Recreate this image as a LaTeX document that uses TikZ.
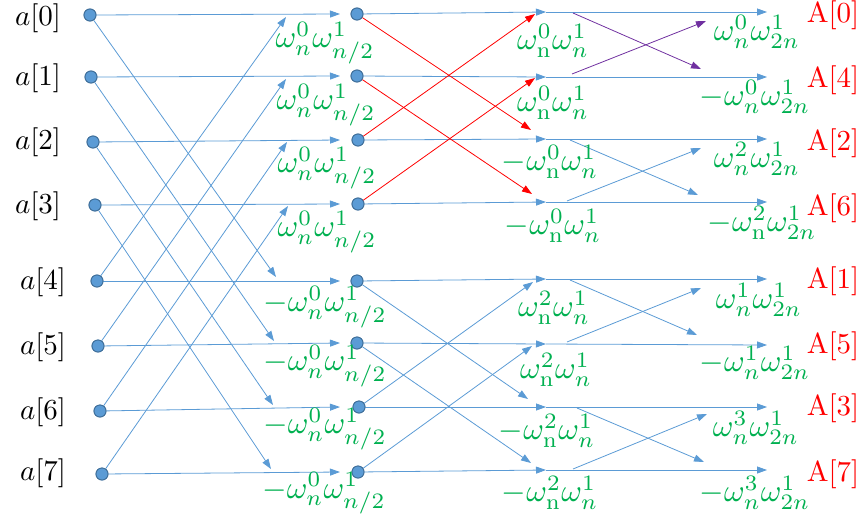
\documentclass[tikz,border=0pt]{standalone}
\usetikzlibrary{arrows.meta}
\definecolor{lblue}{HTML}{5B9BD5}
\definecolor{dblue}{HTML}{41719C}
\definecolor{ggreen}{HTML}{00B050}
\definecolor{rred}{HTML}{FF0000}
\definecolor{ppurple}{HTML}{7030A0}
\newcommand{\wscale}[1]{\scalebox{3.15}{#1}}
\newcommand{\iscale}[1]{\scalebox{2.9}{#1}}
\tikzset{
  dot/.style={circle, fill=lblue, draw=dblue, line width=0.9pt, minimum size=12pt, inner sep=0pt},
  conn/.style={draw=lblue, line width=0.8pt, -{Triangle[length=10pt,width=7pt]}},
  rconn/.style={conn, draw=rred},
  pconn/.style={conn, draw=ppurple},
  wlab/.style={text=ggreen, inner sep=0pt},
  inlab/.style={inner sep=0pt},
  outlab/.style={text=rred, inner sep=0pt},
}
\begin{document}
\begin{tikzpicture}[x=1pt,y=-1pt]
\useasboundingbox (0,0) rectangle (867,520);
% input nodes
\foreach \i/\x/\y in {0/90/15,1/91/77,2/93/142,3/95/205,4/97/281,5/98/346,6/100/411,7/102/474}
  \node[dot] (a\i) at (\x,\y) {};
% second column nodes
\foreach \i/\x/\y in {0/357/14,1/357/76,2/358/140,3/358/204,4/357/281,5/357/343,6/359/407,7/358/472}
  \node[dot] (m\i) at (\x,\y) {};
% tips into second column
\foreach \i/\y in {0/14,1/76,2/140,3/204,4/281,5/343,6/407,7/472}
  \coordinate (h\i) at (340,\y);
\coordinate (u0) at (286,17);
\coordinate (u1) at (286,79);
\coordinate (u2) at (287,142);
\coordinate (u3) at (288,206);
\coordinate (u4) at (276,277);
\coordinate (u5) at (274,341);
\coordinate (u6) at (273,405);
\coordinate (u7) at (271,469);
% third column tips
\foreach \i/\y in {0/12,1/77,2/139,3/202,4/279,5/344,6/407,7/470}
  \coordinate (c\i) at (546,\y);
% fourth column tips
\foreach \i/\y in {0/12,1/77,2/139,3/202,4/279,5/345,6/407,7/470}
  \coordinate (d\i) at (767,\y);
% cross tips into third column
\coordinate (r0) at (535,14);
\coordinate (r1) at (535,78);
\coordinate (r2) at (531,130);
\coordinate (r3) at (532,194);
\coordinate (r4) at (533,282);
\coordinate (r5) at (532,346);
\coordinate (r6) at (528,399);
\coordinate (r7) at (531,463);
% starts and tips of crosses into fourth column
\coordinate (s0) at (573,13);
\coordinate (s1) at (572,74);
\coordinate (s2) at (570,140);
\coordinate (s3) at (567,201);
\coordinate (s4) at (570,280);
\coordinate (s5) at (567,342);
\coordinate (s6) at (577,408);
\coordinate (s7) at (573,469);
\coordinate (t0) at (706,21);
\coordinate (t1) at (701,69);
\coordinate (t2) at (701,148);
\coordinate (t3) at (698,195);
\coordinate (t4) at (701,288);
\coordinate (t5) at (697,335);
\coordinate (t6) at (707,414);
\coordinate (t7) at (704,462);
% stage 1
\foreach \i in {0,...,7} \draw[conn] (a\i) -- (h\i);
\foreach \i/\j in {0/4,1/5,2/6,3/7} {
  \draw[conn] (a\i) -- (u\j);
  \draw[conn] (a\j) -- (u\i);
}
% stage 2
\foreach \i in {0,...,7} \draw[conn] (m\i) -- (c\i);
\draw[rconn] (m0) -- (r2);
\draw[rconn] (m1) -- (r3);
\draw[rconn] (m2) -- (r0);
\draw[rconn] (m3) -- (r1);
\draw[conn] (m4) -- (r6);
\draw[conn] (m5) -- (r7);
\draw[conn] (m6) -- (r4);
\draw[conn] (m7) -- (r5);
% stage 3
\foreach \i in {0,...,7} \draw[conn] (c\i) -- (d\i);
\draw[pconn] (s0) -- (t1);
\draw[pconn] (s1) -- (t0);
\draw[conn] (s2) -- (t3);
\draw[conn] (s3) -- (t2);
\draw[conn] (s4) -- (t5);
\draw[conn] (s5) -- (t4);
\draw[conn] (s6) -- (t7);
\draw[conn] (s7) -- (t6);
% redraw dots on top
\foreach \i/\x/\y in {0/90/15,1/91/77,2/93/142,3/95/205,4/97/281,5/98/346,6/100/411,7/102/474}
  \node[dot] at (\x,\y) {};
\foreach \i/\x/\y in {0/357/14,1/357/76,2/358/140,3/358/204,4/357/281,5/357/343,6/359/407,7/358/472}
  \node[dot] at (\x,\y) {};
% input labels
\foreach \i/\x/\y in {0/38/18,1/38/78,2/38/142,3/38/206,4/43/282,5/43/347,6/43/412,7/43/473}
  \node[inlab] (la\i) at (\x,\y) {\iscale{$a[\i]$}};
% output labels
\foreach \k/\n/\y in {0/0/15,1/4/80,2/2/143,3/6/208,4/1/281,5/5/346,6/3/408,7/7/474}
  \node[outlab] (lA\k) at (833,\y) {\iscale{A[\n]}};
% column 2 labels
\node[wlab] (w20) at (325,43) {\wscale{$\omega_n^0\omega_{n/2}^1$}};
\node[wlab] (w21) at (326,105) {\wscale{$\omega_n^0\omega_{n/2}^1$}};
\node[wlab] (w22) at (327,168) {\wscale{$\omega_n^0\omega_{n/2}^1$}};
\node[wlab] (w23) at (327,232) {\wscale{$\omega_n^0\omega_{n/2}^1$}};
\node[wlab] (w24) at (325,307) {\wscale{$-\omega_n^0\omega_{n/2}^1$}};
\node[wlab] (w25) at (325,366) {\wscale{$-\omega_n^0\omega_{n/2}^1$}};
\node[wlab] (w26) at (325,429) {\wscale{$-\omega_n^0\omega_{n/2}^1$}};
\node[wlab] (w27) at (324,493) {\wscale{$-\omega_n^0\omega_{n/2}^1$}};
% column 3 labels
\node[wlab] (w30) at (553,41) {\wscale{$\omega_{\mathrm{n}}^0\omega_n^1$}};
\node[wlab] (w31) at (553,103) {\wscale{$\omega_{\mathrm{n}}^0\omega_n^1$}};
\node[wlab] (w32) at (550,162) {\wscale{$-\omega_{\mathrm{n}}^0\omega_n^1$}};
\node[wlab] (w33) at (553,226) {\wscale{$-\omega_{\mathrm{n}}^0\omega_n^1$}};
\node[wlab] (w34) at (554,308) {\wscale{$\omega_{\mathrm{n}}^2\omega_n^1$}};
\node[wlab] (w35) at (556,370) {\wscale{$\omega_{\mathrm{n}}^2\omega_n^1$}};
\node[wlab] (w36) at (547,431) {\wscale{$-\omega_{\mathrm{n}}^2\omega_n^1$}};
\node[wlab] (w37) at (550,493) {\wscale{$-\omega_{\mathrm{n}}^2\omega_n^1$}};
% column 4 labels
\node[wlab] (w40) at (757,32) {\wscale{$\omega_n^0\omega_{2n}^1$}};
\node[wlab] (w41) at (755,97) {\wscale{$-\omega_n^0\omega_{2n}^1$}};
\node[wlab] (w42) at (757,159) {\wscale{$\omega_n^2\omega_{2n}^1$}};
\node[wlab] (w43) at (762,223) {\wscale{$-\omega_{\mathrm{n}}^2\omega_{2n}^1$}};
\node[wlab] (w44) at (759,300) {\wscale{$\omega_n^1\omega_{2n}^1$}};
\node[wlab] (w45) at (755,363) {\wscale{$-\omega_n^1\omega_{2n}^1$}};
\node[wlab] (w46) at (756,428) {\wscale{$\omega_n^3\omega_{2n}^1$}};
\node[wlab] (w47) at (755,493) {\wscale{$-\omega_n^3\omega_{2n}^1$}};
\end{tikzpicture}
\end{document}
